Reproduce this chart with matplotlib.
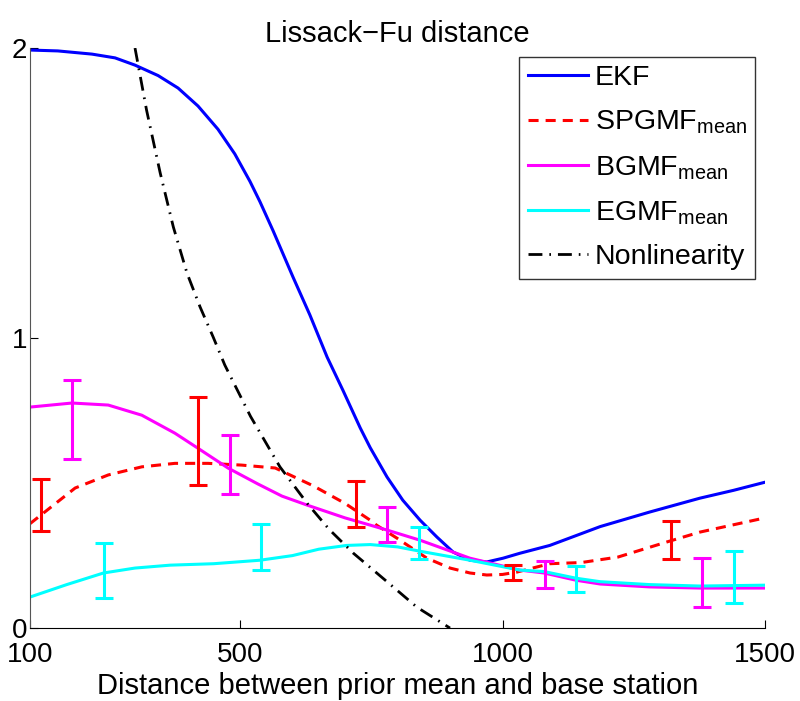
import matplotlib
matplotlib.use("Agg")
import matplotlib.pyplot as plt

plt.rcParams['font.family'] = ['Liberation Sans', 'DejaVu Sans']
plt.rcParams['mathtext.fontset'] = 'custom'
plt.rcParams['mathtext.rm'] = 'Liberation Sans'
plt.rcParams['mathtext.it'] = 'Liberation Sans'

# EKF
ekf_x = [100, 153, 218, 262, 300, 344, 382, 420, 458, 490, 519, 538, 563, 601, 633, 666,
         696, 729, 748, 780, 810, 843, 875, 906, 938, 970, 1001, 1033, 1090, 1186, 1280,
         1376, 1440, 1500]
ekf_y = [1.993, 1.99, 1.979, 1.966, 1.941, 1.905, 1.862, 1.80, 1.72, 1.635, 1.54, 1.47,
         1.37, 1.21, 1.08, 0.934, 0.82, 0.69, 0.622, 0.521, 0.441, 0.372, 0.314, 0.262,
         0.234, 0.228, 0.241, 0.258, 0.285, 0.35, 0.40, 0.448, 0.475, 0.503]

# SPGMF mean
sp_x = [100, 186, 249, 313, 376, 439, 503, 567, 640, 700, 748, 760, 799, 856, 900, 938,
        970, 1000, 1027, 1090, 1150, 1220, 1313, 1376, 1500]
sp_y = [0.36, 0.483, 0.528, 0.556, 0.568, 0.568, 0.562, 0.552, 0.49, 0.43, 0.372, 0.355,
        0.31, 0.241, 0.207, 0.19, 0.183, 0.185, 0.193, 0.222, 0.226, 0.245, 0.297, 0.331,
        0.38]

# BGMF mean
bg_x = [100, 180, 249, 313, 376, 420, 477, 534, 580, 628, 700, 748, 780, 843, 938, 1033,
        1079, 1140, 1186, 1280, 1376, 1500]
bg_y = [0.762, 0.776, 0.769, 0.734, 0.672, 0.62, 0.552, 0.497, 0.455, 0.424, 0.38, 0.355,
        0.338, 0.303, 0.241, 0.2, 0.19, 0.165, 0.152, 0.142, 0.138, 0.138]

# EGMF mean
eg_x = [100, 170, 240, 300, 367, 450, 538, 600, 650, 703, 748, 800, 843, 938, 1033,
        1079, 1140, 1186, 1280, 1376, 1500]
eg_y = [0.107, 0.15, 0.19, 0.207, 0.217, 0.222, 0.234, 0.25, 0.272, 0.285, 0.288, 0.28,
        0.265, 0.234, 0.2, 0.195, 0.172, 0.16, 0.15, 0.145, 0.148]

# Nonlinearity
nl_x = [300, 322, 348, 373, 399, 424, 449, 471, 520, 576, 628, 670, 716, 780, 837, 900]
nl_y = [2.0, 1.786, 1.569, 1.383, 1.224, 1.107, 1.003, 0.907, 0.73, 0.556, 0.43, 0.34,
        0.258, 0.16, 0.072, 0.0]

# error bars (low, high)
sp_err_x = [120, 420, 720, 1020, 1320]
sp_err_lo = [0.334, 0.493, 0.348, 0.166, 0.238]
sp_err_hi = [0.514, 0.797, 0.507, 0.217, 0.369]

bg_err_x = [180, 480, 780, 1080, 1380]
bg_err_lo = [0.583, 0.462, 0.297, 0.138, 0.072]
bg_err_hi = [0.855, 0.666, 0.417, 0.231, 0.241]

eg_err_x = [240, 540, 840, 1140, 1440]
eg_err_lo = [0.104, 0.200, 0.238, 0.124, 0.086]
eg_err_hi = [0.293, 0.359, 0.347, 0.214, 0.266]

fig = plt.figure(figsize=(8, 7.01), dpi=100)
ax = fig.add_axes([0.0375, 0.104, 0.9188, 0.8275])

lw = 2.2
ax.plot(ekf_x, ekf_y, color='#0000ff', lw=lw, label='EKF')
ax.plot(sp_x, sp_y, color='#ff0000', lw=lw, ls=(0, (3.3, 2.3)), label=r'SPGMF$_{\mathrm{mean}}$')
ax.plot(bg_x, bg_y, color='#ff00ff', lw=lw, label=r'BGMF$_{\mathrm{mean}}$')
ax.plot(eg_x, eg_y, color='#00ffff', lw=lw, label=r'EGMF$_{\mathrm{mean}}$')
ax.plot(nl_x, nl_y, color='black', lw=2, ls=(0, (5, 2.5, 0.6, 2.5)), label='Nonlinearity')

for ex, lo, hi, c in [(sp_err_x, sp_err_lo, sp_err_hi, '#ff0000'),
                      (bg_err_x, bg_err_lo, bg_err_hi, '#ff00ff'),
                      (eg_err_x, eg_err_lo, eg_err_hi, '#00ffff')]:
    mid = [(a + b) / 2 for a, b in zip(lo, hi)]
    half = [(b - a) / 2 for a, b in zip(lo, hi)]
    ax.errorbar(ex, mid, yerr=half, fmt='none', ecolor=c, elinewidth=2.2,
                capsize=6.5, capthick=2.2)

ax.set_xlim(100, 1500)
ax.set_ylim(0, 2)
ax.set_xticks([100, 500, 1000, 1500])
ax.set_yticks([0, 1, 2])
ax.tick_params(direction='in', length=6, labelsize=20)
ax.tick_params(axis='x', pad=10)
ax.tick_params(axis='y', pad=2)
ax.spines['top'].set_visible(False)
ax.spines['right'].set_visible(False)
ax.spines['left'].set_color('#555555')

ax.set_title('Lissack\u2212Fu distance', fontsize=21, pad=4)
ax.set_xlabel('Distance between prior mean and base station', fontsize=21, labelpad=3)

leg = ax.legend(loc='upper right', bbox_to_anchor=(0.987, 0.985), fontsize=20.5,
                frameon=True, fancybox=False, edgecolor='black', handlelength=2.1,
                handletextpad=0.25, borderpad=0.3, labelspacing=0.62, borderaxespad=0)
leg.get_frame().set_linewidth(1.0)

fig.savefig('out.png', dpi=100)
